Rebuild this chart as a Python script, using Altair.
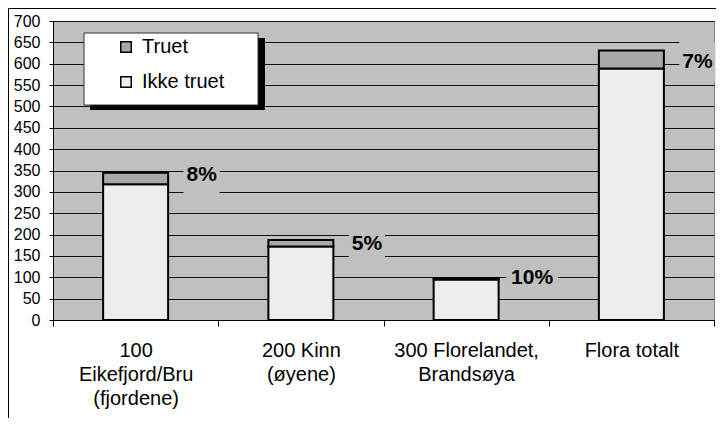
import altair as alt
import pandas as pd

# ---- data ----
categories = ["100|Eikefjord/Bru|(fjordene)", "200 Kinn|(øyene)",
              "300 Florelandet,|Brandsøya", "Flora totalt"]
ikke_truet = [318, 172, 95, 589]
truet = [27, 15, 3, 42]
pct_labels = ["8%", "5%", "10%", "7%"]
label_y = [340, 179, 98, 604]
series = ["Truet", "Ikke truet"]
y_ticks = list(range(0, 701, 50))

rows = []
for c, a, b in zip(categories, ikke_truet, truet):
    rows.append({"cat": c, "serie": "Ikke truet", "value": a, "ord": 0})
    rows.append({"cat": c, "serie": "Truet", "value": b, "ord": 1})
df = pd.DataFrame(rows)
lab = pd.DataFrame({"cat": categories, "pct": pct_labels, "ly": label_y})
one = pd.DataFrame({"a": [0]})

FONT = "Liberation Sans"
BG = "#C0C0C0"
LABEL_DX = 66

x_scale = alt.Scale(paddingInner=0, paddingOuter=0)
x_axis = alt.Axis(title=None, labelAngle=0, labelExpr="split(datum.label, '|')",
                  labelFontSize=20, labelLineHeight=24, labelFont=FONT,
                  labelColor="black", labelPadding=14, labelBaseline="top",
                  tickBand="extent", tickSize=6, tickColor="black",
                  domainColor="black", labelLimit=300, labelOverlap=False)
x_enc = alt.X("cat:N", sort=categories, scale=x_scale, axis=x_axis)

y_scale = alt.Scale(domain=[0, 700], nice=False)
y_axis = alt.Axis(title=None, values=y_ticks, grid=True, gridColor="#111111",
                  gridWidth=1, tickSize=4, tickColor="black", domainColor="black",
                  labelFontSize=16, labelFont=FONT, labelColor="black",
                  labelPadding=9, labelOverlap=False)

border = alt.Chart(one).mark_rect(fill=None, stroke="black", strokeWidth=1).encode(
    x=alt.value(-44.5), x2=alt.value(900), y=alt.value(-12.5), y2=alt.value(700))

bars = alt.Chart(df).mark_bar(width=65, stroke="black", strokeWidth=2).encode(
    x=x_enc,
    y=alt.Y("value:Q", stack="zero", scale=y_scale, axis=y_axis),
    order=alt.Order("ord:Q"),
    color=alt.Color("serie:N",
                    scale=alt.Scale(domain=series, range=["#A8A8A8", "#EDEDED"]),
                    legend=alt.Legend(title=None, orient="none", direction="vertical",
                                      legendX=63, legendY=16, symbolType="square",
                                      symbolSize=110, symbolStrokeColor="black",
                                      symbolStrokeWidth=1.5, labelFontSize=20,
                                      labelFont=FONT, labelColor="black",
                                      rowPadding=15, labelOffset=6, padding=0)),
)

narrow = "M-0.9,-1L0.9,-1L0.9,1L-0.9,1Z"
wide = "M-1.3,-1L1.3,-1L1.3,1L-1.3,1Z"
boxes = alt.Chart(lab).mark_point(filled=True, color=BG, opacity=1, strokeWidth=0,
                                   xOffset=LABEL_DX).encode(
    x=x_enc,
    y=alt.Y("ly:Q", scale=y_scale, axis=y_axis),
    shape=alt.condition("length(datum.pct) > 2", alt.value(wide), alt.value(narrow)),
    size=alt.value(1600))

texts = alt.Chart(lab).mark_text(fontSize=21, fontWeight="bold", font=FONT,
                                 color="black", xOffset=LABEL_DX, align="center",
                                 baseline="middle").encode(
    x=x_enc,
    y=alt.Y("ly:Q", scale=y_scale, axis=y_axis),
    text="pct:N")

shadow = alt.Chart(one).mark_rect(fill="black").encode(
    x=alt.value(37), x2=alt.value(212), y=alt.value(17), y2=alt.value(89))
legbox = alt.Chart(one).mark_rect(fill="white", stroke="#333333", strokeWidth=1).encode(
    x=alt.value(31), x2=alt.value(205), y=alt.value(12), y2=alt.value(84))

chart = alt.layer(border, bars, boxes, texts, shadow, legbox).properties(
    width=661, height=299,
    padding={"left": 45, "top": 13, "right": 2, "bottom": 98},
    autosize=alt.AutoSizeParams(type="none"),
    background="white",
).configure_view(fill=BG, stroke="#808080", strokeWidth=1)

chart.save("out.html", embed_options={"renderer": "svg", "actions": False})
